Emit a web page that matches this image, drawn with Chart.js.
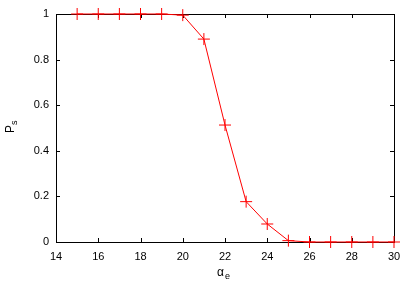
<!DOCTYPE html>
<html>
<head>
<meta charset="utf-8">
<script src="https://cdn.jsdelivr.net/npm/chart.js@4"></script>
<style>
  html, body { margin: 0; padding: 0; background: #fff; }
  #wrap { width: 415px; height: 291px; }
</style>
</head>
<body>
<div id="wrap"><canvas id="myChart" width="415" height="291"></canvas></div>
<script>
// data
const alphaE = [15, 16, 17, 18, 19, 20, 21, 22, 23, 24, 25, 26, 27, 28, 29, 30];
const ps = [1, 1, 1, 1, 1, 0.995, 0.89, 0.513, 0.177, 0.079, 0.006, 0, 0, 0, 0, 0];
const xTicks = [14, 16, 18, 20, 22, 24, 26, 28, 30];
const yTicks = [0, 0.2, 0.4, 0.6, 0.8, 1];

// gnuplot-like frame with inward ticks on all four sides (under the data)
const framePlugin = {
  id: 'frame',
  beforeDatasetsDraw(chart) {
    const { ctx, chartArea: a, scales } = chart;
    ctx.save();
    ctx.strokeStyle = '#000';
    ctx.lineWidth = 1;
    ctx.strokeRect(a.left + 0.5, a.top + 0.5, a.right - a.left, a.bottom - a.top);
    ctx.beginPath();
    xTicks.forEach(v => {
      const x = Math.round(scales.x.getPixelForValue(v)) + 0.5;
      ctx.moveTo(x, a.bottom); ctx.lineTo(x, a.bottom - 4);
      ctx.moveTo(x, a.top); ctx.lineTo(x, a.top + 4);
    });
    yTicks.forEach(v => {
      const y = Math.round(scales.y.getPixelForValue(v)) + 0.5;
      ctx.moveTo(a.left, y); ctx.lineTo(a.left + 4, y);
      ctx.moveTo(a.right, y); ctx.lineTo(a.right - 4, y);
    });
    ctx.stroke();
    ctx.restore();
  },
  afterDraw(chart) {
    // subscripted axis titles
    const ctx = chart.ctx;
    ctx.save();
    ctx.fillStyle = '#000';
    ctx.textBaseline = 'alphabetic';
    ctx.font = '12px "Liberation Sans", Arial, sans-serif';
    ctx.fillText('\u03b1', 217, 276);
    ctx.font = '9px "Liberation Sans", Arial, sans-serif';
    ctx.fillText('e', 225, 279);
    ctx.translate(14, 128);
    ctx.rotate(-Math.PI / 2);
    ctx.font = '12px "Liberation Sans", Arial, sans-serif';
    ctx.fillText('P', -5, 0);
    ctx.font = '9px "Liberation Sans", Arial, sans-serif';
    ctx.fillText('s', 3, 3);
    ctx.restore();
  }
};

const ctx = document.getElementById('myChart').getContext('2d');
new Chart(ctx, {
  type: 'line',
  data: {
    datasets: [{
      data: alphaE.map((x, i) => ({ x: x, y: ps[i] })),
      borderColor: '#ff0000',
      backgroundColor: '#ff0000',
      borderWidth: 1,
      pointStyle: 'cross',
      pointRadius: 6,
      pointBorderWidth: 1,
      pointBorderColor: '#ff0000',
      tension: 0,
      clip: false
    }]
  },
  options: {
    responsive: false,
    animation: false,
    events: [],
    layout: { padding: { top: 14, right: 21, bottom: 0, left: 0 } },
    plugins: { legend: { display: false }, tooltip: { enabled: false } },
    scales: {
      x: {
        type: 'linear',
        min: 14, max: 30,
        afterFit(s) { s.height = 49; },
        afterBuildTicks(s) { s.ticks = xTicks.map(v => ({ value: v })); },
        grid: { display: false, drawTicks: false },
        border: { display: false },
        ticks: { color: '#000', font: { family: '"Liberation Sans", Arial, sans-serif', size: 11 }, padding: 8, maxRotation: 0 }
      },
      y: {
        min: 0, max: 1,
        afterFit(s) { s.width = 56; },
        afterBuildTicks(s) { s.ticks = yTicks.map(v => ({ value: v })); },
        grid: { display: false, drawTicks: false },
        border: { display: false },
        ticks: { color: '#000', font: { family: '"Liberation Sans", Arial, sans-serif', size: 11 }, padding: 7, callback: v => String(Math.round(v * 10) / 10) }
      }
    }
  },
  plugins: [framePlugin]
});
</script>
</body>
</html>
